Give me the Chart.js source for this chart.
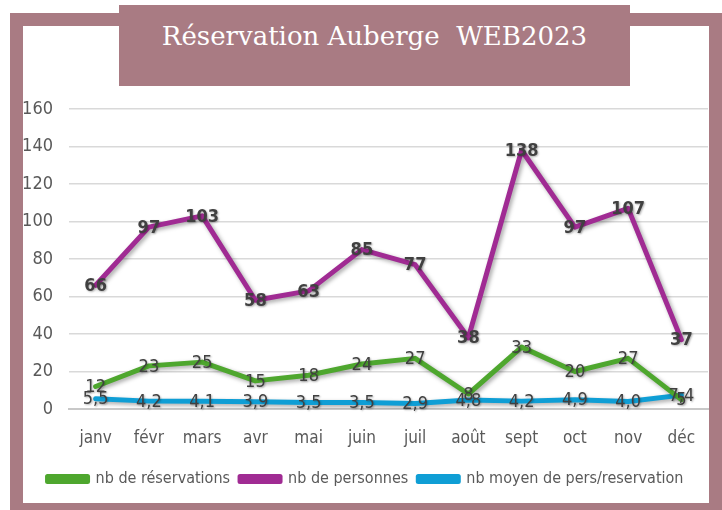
<!DOCTYPE html>
<html lang="fr">
<head>
    <meta charset="UTF-8">
    <title>Réservation Auberge WEB2023</title>
    <style>
        body {
            margin: 0;
            padding: 0;
            background: #fff;
            width: 722px;
            height: 510px;
            position: relative;
            overflow: hidden;
        }
        .frame {
            position: absolute;
            left: 10px;
            top: 13px;
            width: 712px;
            height: 497px;
            background: #a97b83;
        }
        .inner {
            position: absolute;
            left: 23px;
            top: 26px;
            width: 686px;
            height: 477px;
            background: #fff;
        }
        .title {
            position: absolute;
            left: 119px;
            top: 5px;
            width: 511px;
            height: 81px;
            background: #a97b83;
            color: #fff;
            font-family: "DejaVu Serif", serif;
            font-size: 26px;
            text-align: center;
            line-height: 62px;
        }
        canvas {
            position: absolute;
            left: 23px;
            top: 26px;
        }
    </style>
</head>
<body>
    <div class="frame"></div>
    <div class="inner"></div>
    <canvas id="chart" width="686" height="477"></canvas>
    <div class="title">Réservation Auberge&nbsp; WEB2023</div>

    <script src="https://cdn.jsdelivr.net/npm/chart.js"></script>
    <script>
        const mois = ['janv', 'févr', 'mars', 'avr', 'mai', 'juin', 'juil', 'août', 'sept', 'oct', 'nov', 'déc'];
        const reservations = [12, 23, 25, 15, 18, 24, 27, 8, 33, 20, 27, 5];
        const personnes = [66, 97, 103, 58, 63, 85, 77, 38, 138, 97, 107, 37];
        const moyenne = [5.5, 4.2, 4.1, 3.9, 3.5, 3.5, 2.9, 4.8, 4.2, 4.9, 4.0, 7.4];
        const yMin = 0, yMax = 160, yStep = 20;

        const narrow = "'DejaVu Sans Condensed', 'Liberation Sans', sans-serif";

        // ombre sous les courbes
        const lineShadow = {
            id: 'lineShadow',
            beforeDatasetDraw(chart) {
                const ctx = chart.ctx;
                ctx.save();
                ctx.shadowColor = 'rgba(0, 0, 0, 0.35)';
                ctx.shadowBlur = 4;
                ctx.shadowOffsetX = 2;
                ctx.shadowOffsetY = 2;
            },
            afterDatasetDraw(chart) {
                chart.ctx.restore();
            }
        };

        // étiquettes de données
        const dataLabels = {
            id: 'dataLabels',
            afterDatasetsDraw(chart) {
                const ctx = chart.ctx;
                chart.data.datasets.forEach((ds, i) => {
                    const meta = chart.getDatasetMeta(i);
                    ctx.save();
                    ctx.font = (ds.labelBold ? 'bold ' : '') + '18px ' + narrow;
                    ctx.fillStyle = '#404040';
                    ctx.textAlign = 'center';
                    ctx.textBaseline = 'middle';
                    ctx.shadowColor = 'rgba(0, 0, 0, 0.3)';
                    ctx.shadowBlur = 2;
                    ctx.shadowOffsetX = 1;
                    ctx.shadowOffsetY = 1;
                    meta.data.forEach((pt, j) => {
                        const v = ds.data[j];
                        const txt = ds.decimals ? v.toFixed(1).replace('.', ',') : String(v);
                        ctx.fillText(txt, pt.x, pt.y + 1);
                    });
                    ctx.restore();
                });
            }
        };

        new Chart(document.getElementById('chart'), {
            type: 'line',
            data: {
                labels: mois,
                datasets: [{
                    label: 'nb de réservations',
                    data: reservations,
                    borderColor: '#4ea72e',
                    backgroundColor: '#4ea72e',
                    borderWidth: 5
                }, {
                    label: 'nb de personnes',
                    data: personnes,
                    borderColor: '#a02b93',
                    backgroundColor: '#a02b93',
                    borderWidth: 5,
                    labelBold: true
                }, {
                    label: 'nb moyen de pers/reservation',
                    data: moyenne,
                    borderColor: '#0f9ed5',
                    backgroundColor: '#0f9ed5',
                    borderWidth: 5,
                    decimals: true
                }]
            },
            options: {
                responsive: false,
                animation: false,
                elements: {
                    point: { radius: 0 },
                    line: { tension: 0, borderJoinStyle: 'round', borderCapStyle: 'round' }
                },
                layout: {
                    padding: { top: 83, left: 0, right: 1, bottom: 6 }
                },
                plugins: {
                    tooltip: { enabled: false },
                    legend: {
                        position: 'bottom',
                        labels: {
                            boxWidth: 40,
                            boxHeight: 5,
                            padding: 10,
                            color: '#595959',
                            font: { family: narrow, size: 16 }
                        }
                    }
                },
                scales: {
                    x: {
                        offset: true,
                        grid: { display: false },
                        border: { color: '#c8c8c8', width: 2 },
                        ticks: {
                            color: '#595959',
                            padding: 11,
                            font: { family: narrow, size: 17 }
                        },
                        afterFit(scale) { scale.height = 52; }
                    },
                    y: {
                        min: yMin,
                        max: yMax,
                        grid: { color: '#d9d9d9', lineWidth: 1.5, drawTicks: false },
                        border: { display: false },
                        ticks: {
                            stepSize: yStep,
                            color: '#595959',
                            padding: 16,
                            font: { family: narrow, size: 18 }
                        },
                        afterFit(scale) { scale.width = 46; }
                    }
                }
            },
            plugins: [lineShadow, dataLabels]
        });
    </script>
</body>
</html>
